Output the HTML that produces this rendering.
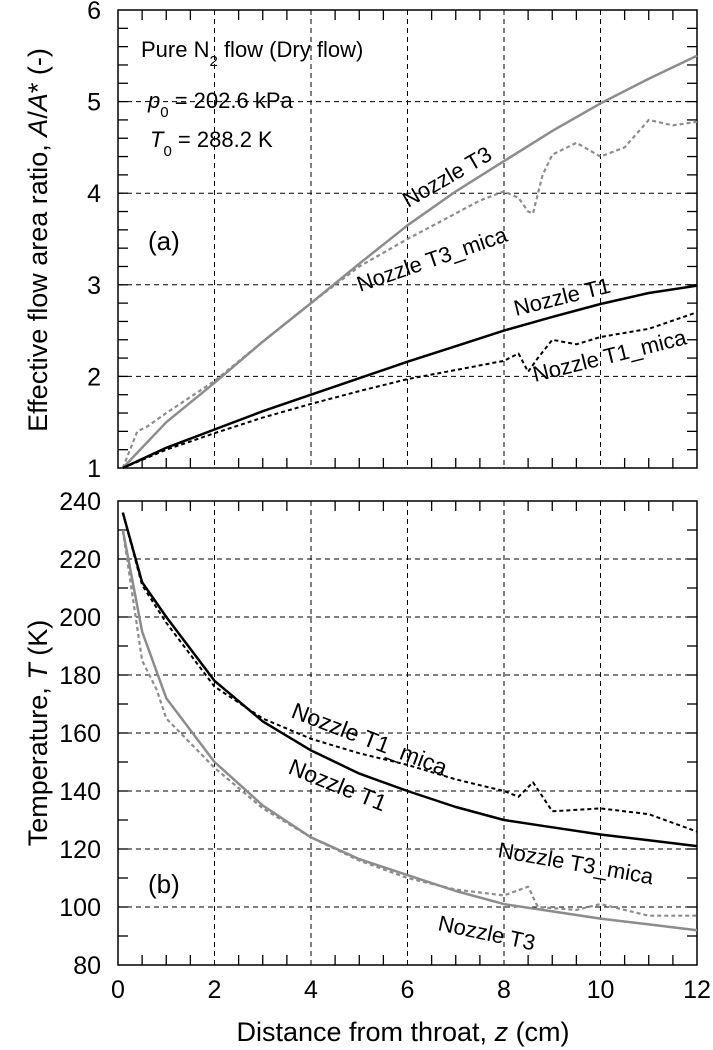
<!DOCTYPE html>
<html><head><meta charset="utf-8"><style>
body{margin:0;background:#fff;position:relative;}
svg{display:block;font-family:"Liberation Sans",Arial,sans-serif;}
</style></head><body>
<svg id="c" width="713" height="1050"></svg>
<script>
const xTicks=[0,2,4,6,8,10,12];
const aTicks=[1,2,3,4,5,6];
const tTicks=[80,100,120,140,160,180,200,220,240];
const t3x=[0.1,1,2,3,4,5,6,7,8,9,10,11,12];
const t3y=[1,1.5,1.93,2.38,2.8,3.23,3.65,4.02,4.35,4.68,4.98,5.25,5.5];
const t3mx=[0.1,0.4,0.6,1,2,3,4,5,6,7,7.5,8,8.3,8.5,8.6,8.8,9,9.5,10,10.5,11,11.5,12];
const t3my=[1,1.4,1.45,1.6,1.95,2.38,2.8,3.2,3.5,3.78,3.92,4.02,3.95,3.8,3.78,4.2,4.42,4.55,4.4,4.5,4.8,4.74,4.78];
const t1x=[0.1,1,2,3,4,5,6,7,8,9,10,11,12];
const t1y=[1,1.22,1.42,1.62,1.8,1.98,2.16,2.33,2.5,2.65,2.79,2.91,2.99];
const t1mx=[0.1,1,2,3,4,5,6,7,8,8.3,8.5,8.7,9,9.5,10,11,12];
const t1my=[1,1.2,1.38,1.55,1.7,1.84,1.97,2.07,2.17,2.25,2.05,2.2,2.4,2.35,2.43,2.52,2.7];
const bt1x=[0.1,0.5,1,2,3,4,5,6,7,8,9,10,11,12];
const bt1y=[236,212,200,178,164,154,146,140,134.5,130,127.5,125,123,121];
const bt1mx=[0.1,0.5,1,2,3,4,5,6,7,8,8.3,8.6,9,10,11,12];
const bt1my=[236,211,198,176,165,158,153,149,144,140,138,143,133,134,132,126];
const bt3x=[0.1,0.5,1,2,3,4,5,6,7,8,9,10,11,12];
const bt3y=[230,195,172,150,135,124,116.5,111,105.5,101,98.5,96,94,92];
const bt3mx=[0.1,0.5,0.8,1,2,3,4,5,6,7,8,8.5,8.7,9.5,10,11,12];
const bt3my=[230,185,175,165,148,134,124,116,110,106,104,107,100,99,101,97,97];

const NS="http://www.w3.org/2000/svg",svg=document.getElementById('c');
const X=v=>118+v*48.25;
const YA=v=>468-(v-1)*91.6;
const YT=v=>965-(v-80)*2.9;
function mk(t,a,p){const e=document.createElementNS(NS,t);for(const k in a)e.setAttribute(k,a[k]);(p||svg).appendChild(e);return e;}
function txt(s,x,y,sz,extra){const e=mk('text',Object.assign({x:x,y:y,'font-size':sz},extra||{}));e.textContent=s;return e;}

function panel(name,top,bot,yT,Y,minorStep,ymin,ymax){
  const g=mk('g',{});
  
  
  xTicks.forEach(v=>{if(v>0&&v<12){const l=mk('line',{x1:X(v),x2:X(v),y1:top,y2:bot,stroke:'#000','stroke-width':1,'stroke-dasharray':'5,4'},g);}});
  yT.forEach(v=>{if(v>ymin&&v<ymax){const l=mk('line',{x1:X(0),x2:X(12),y1:Y(v),y2:Y(v),stroke:'#000','stroke-width':1,'stroke-dasharray':'5,4'},g);}});
  for(let v=0.5;v<12;v+=0.5){const L=(v%2===0)?0:10;if(L){mk('line',{x1:X(v),x2:X(v),y1:bot,y2:bot-L,stroke:'#000','stroke-width':1.3},g);mk('line',{x1:X(v),x2:X(v),y1:top,y2:top+L,stroke:'#000','stroke-width':1.3},g);}}
  for(let v=ymin+minorStep;v<ymax-1e-6;v+=minorStep){mk('line',{x1:X(0),x2:X(0)+10,y1:Y(v),y2:Y(v),stroke:'#000','stroke-width':1.3},g);mk('line',{x1:X(12),x2:X(12)-10,y1:Y(v),y2:Y(v),stroke:'#000','stroke-width':1.3},g);}
  const r=mk('rect',{x:X(0),y:top,width:X(12)-X(0),height:bot-top,fill:'none',stroke:'#000','stroke-width':1.5},g);
  
  yT.forEach(v=>{const t=txt(String(v),X(0)-17,Y(v)+9,25,{'text-anchor':'end'});});
}
panel('panel-a',10,468,aTicks,YA,0.2,1,6);
panel('panel-b',501,965,tTicks,YT,10,80,240);

function line(xs,ys,Y,col,dash,w,name){
  const d=xs.map((x,i)=>(i?'L':'M')+X(x).toFixed(1)+','+Y(ys[i]).toFixed(1)).join('');
  const p=mk('path',{d:d,fill:'none',stroke:col,'stroke-width':w,'stroke-dasharray':dash||'none','stroke-linejoin':'round'});
  
  
}
const G='#8c8c8c';
line(t3x,t3y,YA,G,'',2.5,'series-t3-area');
line(t3mx,t3my,YA,G,'4,3',2.2,'series-t3-mica-area');
line(t1x,t1y,YA,'#000','',2.5,'series-t1-area');
line(t1mx,t1my,YA,'#000','4,3',2,'series-t1-mica-area');
line(bt1x,bt1y,YT,'#000','',2.5,'series-t1-temp');
line(bt1mx,bt1my,YT,'#000','4,3',2,'series-t1-mica-temp');
line(bt3x,bt3y,YT,G,'',2.5,'series-t3-temp');
line(bt3mx,bt3my,YT,G,'4,3',2.2,'series-t3-mica-temp');

xTicks.forEach(v=>{const t=txt(String(v),X(v),998,25,{'text-anchor':'middle'});});
</script>
<svg width="713" height="1050" style="position:absolute;left:0;top:0;font-family:'Liberation Sans',Arial,sans-serif">
<text x="403" y="1041" font-size="27" text-anchor="middle">Distance from throat, <tspan font-style="italic">z</tspan> (cm)</text>
<text transform="translate(47,240) rotate(-90)" font-size="27" text-anchor="middle">Effective flow area ratio, <tspan font-style="italic">A</tspan>/<tspan font-style="italic">A</tspan>* (-)</text>
<text transform="translate(47,733) rotate(-90)" font-size="27" text-anchor="middle">Temperature, <tspan font-style="italic">T</tspan> (K)</text>
<text x="141" y="57" font-size="22">Pure N<tspan font-size="15" dy="9">2</tspan><tspan dy="-9"> flow (Dry flow)</tspan></text>
<text x="148" y="108" font-size="22"><tspan font-style="italic">p</tspan><tspan font-size="15" dy="9">0</tspan><tspan dy="-9"> = 202.6 kPa</tspan></text>
<text x="150" y="147" font-size="22"><tspan font-style="italic">T</tspan><tspan font-size="15" dy="9">0</tspan><tspan dy="-9"> = 288.2 K</tspan></text>
<text x="148" y="250" font-size="26">(a)</text>
<text x="148" y="893" font-size="26">(b)</text>
<text transform="translate(408,208) rotate(-30)" font-size="22">Nozzle T3</text>
<text transform="translate(360,292) rotate(-19)" font-size="22">Nozzle T3_mica</text>
<text transform="translate(516,316) rotate(-14)" font-size="22">Nozzle T1</text>
<text transform="translate(535,382) rotate(-14)" font-size="22">Nozzle T1_mica</text>
<text transform="translate(290,717) rotate(21)" font-size="23">Nozzle T1_mica</text>
<text transform="translate(287,773) rotate(22)" font-size="23">Nozzle T1</text>
<text transform="translate(497,857) rotate(10)" font-size="22">Nozzle T3_mica</text>
<text transform="translate(437,930) rotate(12)" font-size="22">Nozzle T3</text>
</svg>
</body></html>
